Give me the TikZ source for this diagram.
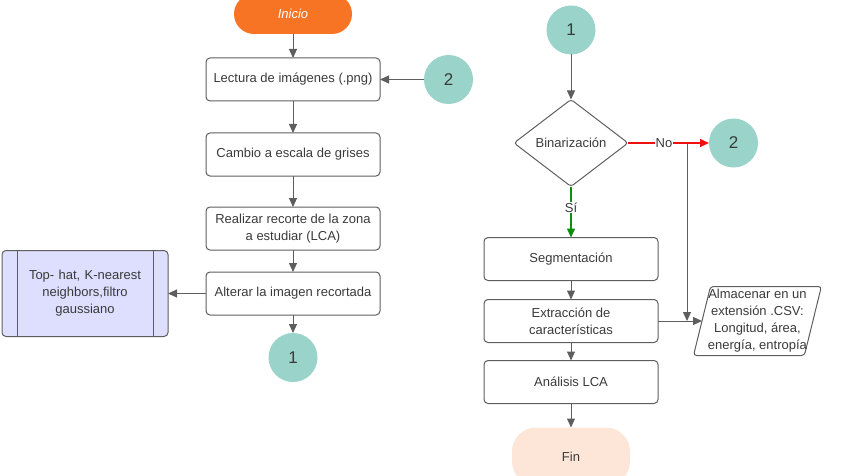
\documentclass[tikz,border=0pt]{standalone}
\usepackage{fontspec}
\setmainfont{Liberation Sans}
\usetikzlibrary{arrows.meta, positioning, shapes.geometric}

\definecolor{linegray}{HTML}{5E5E5E}
\definecolor{textgray}{HTML}{3A3A3A}
\definecolor{startorange}{HTML}{F67423}
\definecolor{endpeach}{HTML}{FDE6D8}
\definecolor{connteal}{HTML}{99D3C9}
\definecolor{procviolet}{HTML}{DEDEFF}
\definecolor{noarrow}{HTML}{F01010}
\definecolor{yesarrow}{HTML}{108C10}

\begin{document}
\begin{tikzpicture}[
        x=1pt, y=1pt,
        font=\fontsize{13}{17}\selectfont,
        text=textgray,
        outer sep=0pt,
        process/.style={
            draw=linegray,
            line width=1pt,
            rounded corners=4pt,
            minimum width=174pt,
            minimum height=43pt,
            align=center
        },
        terminal/.style={
            rounded corners=20pt,
            minimum width=118pt,
            align=center
        },
        connector/.style={
            circle,
            fill=connteal,
            minimum size=49pt,
            inner sep=0pt,
            font=\fontsize{17}{20}\selectfont
        },
        decision/.style={
            diamond,
            draw=linegray,
            line width=1pt,
            rounded corners=3pt,
            minimum width=114pt,
            minimum height=87pt,
            inner sep=0pt
        },
        storage/.style={
            trapezium,
            trapezium left angle=77,
            trapezium right angle=103,
            trapezium stretches=true,
            draw=linegray,
            line width=1pt,
            rounded corners=3pt,
            minimum width=128pt,
            minimum height=69pt,
            inner xsep=-8pt,
            inner ysep=1pt,
            align=center
        },
        flowarrow/.style={
            -{Triangle[length=9pt, width=8pt]},
            linegray,
            line width=1pt
        },
        noflow/.style={
            -{Triangle[length=9pt, width=8pt]},
            color=noarrow,
            line width=1.5pt
        },
        yesflow/.style={
            -{Triangle[length=9pt, width=8pt]},
            color=yesarrow,
            line width=1.5pt
        },
        branchlabel/.style={
            fill=white,
            text=textgray,
            inner sep=1pt
        }
    ]

        \useasboundingbox (0,0) rectangle (854,-476);

        % ---------------------------------------------------------------------
        % Left column: reading and preprocessing
        % ---------------------------------------------------------------------

        \node[
            terminal,
            fill=startorange,
            minimum height=40pt,
            text=white,
            font=\fontsize{13}{17}\selectfont\itshape
        ] (inicio) at (293,-14) {Inicio};

        \node[
            process,
            below=24pt of inicio
        ] (lectura) {Lectura de imágenes (.png)};

        \node[
            process,
            below=32pt of lectura
        ] (cambio) {Cambio a escala de grises};

        \node[
            process,
            below=31pt of cambio
        ] (recorte) {Realizar recorte de la zona\\a estudiar (LCA)};

        \node[
            process,
            below=22pt of recorte
        ] (alterar) {Alterar la imagen recortada};

        \node[
            connector,
            below=18pt of alterar
        ] (conA) {1};

        \node[
            connector,
            right=44pt of lectura
        ] (retA) {2};

        \node[
            process,
            fill=procviolet,
            minimum width=166pt,
            minimum height=86pt,
            text width=130pt,
            left=38pt of alterar
        ] (filtros) {Top- hat, K-nearest\\neighbors,filtro\\gaussiano};

        \draw[linegray, line width=1pt]
            ([xshift=15pt]filtros.north west) -- ([xshift=15pt]filtros.south west);
        \draw[linegray, line width=1pt]
            ([xshift=-15pt]filtros.north east) -- ([xshift=-15pt]filtros.south east);

        \draw[flowarrow] (inicio) -- (lectura);
        \draw[flowarrow] (lectura) -- (cambio);
        \draw[flowarrow] (cambio) -- (recorte);
        \draw[flowarrow] (recorte) -- (alterar);
        \draw[flowarrow] (alterar) -- (conA);
        \draw[flowarrow] (retA) -- (lectura);
        \draw[flowarrow] (alterar) -- (filtros);

        % ---------------------------------------------------------------------
        % Right column: binarization and features
        % ---------------------------------------------------------------------

        \node[connector] (conB) at (571,-30) {1};

        \node[
            decision,
            below=45pt of conB
        ] (binar) {Binarización};

        \node[
            connector,
            right=81pt of binar
        ] (retB) {2};

        \node[
            process,
            below=51pt of binar
        ] (segm) {Segmentación};

        \node[
            process,
            below=19pt of segm
        ] (extra) {Extracción de\\características};

        \node[
            process,
            below=18pt of extra
        ] (analisis) {Análisis LCA};

        \node[
            terminal,
            fill=endpeach,
            minimum height=58pt,
            rounded corners=24pt,
            below=24pt of analisis
        ] (fin) {Fin};

        \node[
            storage,
            right=44pt of extra
        ] (guardar) {Almacenar en un\\extensión .CSV:\\Longitud, área,\\energía, entropía};

        \draw[flowarrow] (conB) -- (binar);

        \coordinate (nojoin) at ([xshift=59pt]binar.east);
        \draw[flowarrow] (nojoin) -- (nojoin |- extra.east);

        \draw[noflow] (binar.east) -- (retB);
        \node[branchlabel] (nolabel) at ([xshift=36pt]binar.east) {No};

        \draw[yesflow] (binar.south) -- (segm);
        \node[branchlabel] (silabel) at ([yshift=-21pt]binar.south) {Sí};

        \draw[flowarrow] (segm) -- (extra);
        \draw[flowarrow] (extra) -- (analisis);
        \draw[flowarrow] (analisis) -- (fin);

        \draw[flowarrow] (extra.east) -- (extra.east -| guardar.west);

    \end{tikzpicture}
\end{document}
